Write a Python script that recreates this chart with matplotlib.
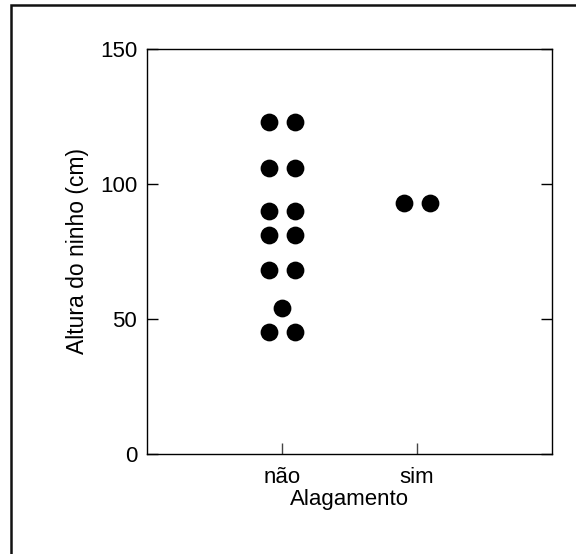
import numpy as np
import matplotlib
matplotlib.use("Agg")
import matplotlib.pyplot as plt
from matplotlib.patches import Rectangle

plt.rcParams.update({
    "font.family": ["Liberation Sans", "DejaVu Sans"],
    "font.size": 16,
})

# Nest height (cm) by flooding category
categories = ["não", "sim"]
altura_nao = [123, 123, 106, 106, 90, 90, 81, 81, 68, 68, 54, 45, 45]
altura_sim = [93, 93]
groups = [altura_nao, altura_sim]

yticks = [0, 50, 100, 150]


def dot_offsets(values, step=0.093):
    # tied values are spread side by side around the category centre
    values = np.asarray(values)
    offs = np.zeros(len(values))
    for v in np.unique(values):
        idx = np.where(values == v)[0]
        n = len(idx)
        offs[idx] = (np.arange(n) - (n - 1) / 2) * 2 * step
    return offs


fig = plt.figure(figsize=(5.76, 5.54), dpi=100)
ax = fig.add_axes([0.2552, 0.1805, 0.7031, 0.7311])

for i, vals in enumerate(groups):
    x = i + 1 + dot_offsets(vals)
    ax.plot(x, vals, "o", color="black", ms=12.8, mec="black", mew=0,
            linestyle="none")

ax.set_xlim(0, 3)
ax.set_ylim(0, 150)
ax.set_xticks([1, 2])
ax.set_xticklabels(categories)
ax.set_yticks(yticks)

ax.tick_params(axis="y", direction="in", length=8, width=1.0,
               left=True, right=True, pad=7)
ax.tick_params(axis="x", direction="in", length=8, width=1.0,
               bottom=True, top=False, pad=9, color="#444444")
for s in ax.spines.values():
    s.set_linewidth(1.0)

ax.set_xlabel("Alagamento", labelpad=1)
ax.set_ylabel("Altura do ninho (cm)", labelpad=8, fontsize=16.5)

# outer frame
fig.patches.append(Rectangle((11 / 576, -0.1), 1.2, 1 - 4.5 / 554 + 0.1,
                             transform=fig.transFigure, fill=False,
                             edgecolor="#111111", linewidth=1.8))

fig.savefig("out.png", dpi=100)
